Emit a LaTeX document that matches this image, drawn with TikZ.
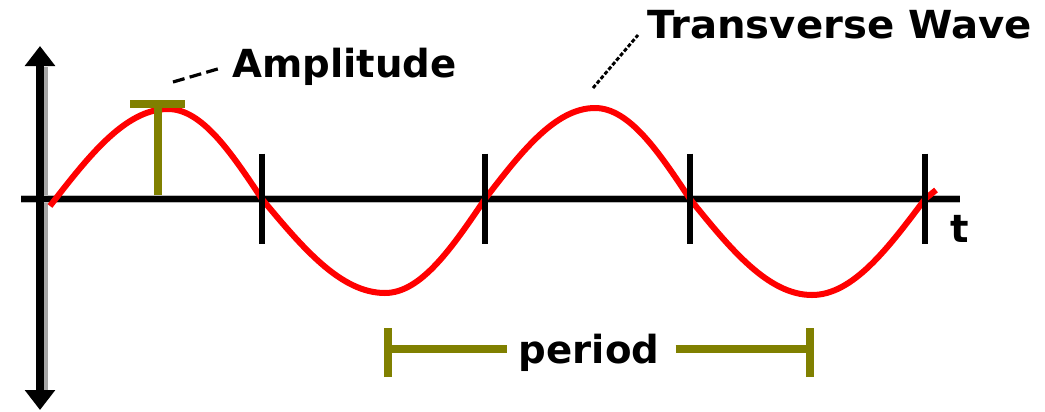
\documentclass[tikz,border=0pt]{standalone}
\usepackage{fontspec}
\setmainfont{DejaVu Sans}
\usetikzlibrary{arrows.meta}
\definecolor{olivebar}{HTML}{808000}
\definecolor{wavered}{HTML}{FF0000}
\tikzset{
  px/.style={x=0.75pt,y=-0.75pt},
  axisline/.style={line width=6pt,black},
  axishoriz/.style={line width=4pt,black},
  shadowline/.style={line width=2.5pt,gray!70},
  tickmark/.style={line width=5pt,black},
  wave/.style={line width=4.5pt,wavered,line join=round},
  olive/.style={line width=6pt,olivebar},
  label/.style={font=\fontsize{29}{30}\selectfont\bfseries,inner sep=0pt},
  leader/.style={line width=2.4pt,black},
}
\begin{document}
\begin{tikzpicture}[px]
\useasboundingbox (0,0) rectangle (1045,411);
% shadows
\draw[shadowline] (46,67) -- (46,390);
\draw[line width=6pt,gray!55] (21,199) -- (960,199);
% axes
\coordinate (ytop) at (40,46);
\coordinate (ybot) at (40,410);
\coordinate (xl) at (21,199);
\coordinate (xr) at (960,199);
\draw[axishoriz] (xl) -- (xr);
\draw[axisline,{Triangle[width=22pt,length=15pt]}-{Triangle[width=22pt,length=15pt]}] (ytop) -- (ybot);
% wave
\coordinate (w0) at (50,206);
\coordinate (p1) at (168,109);
\coordinate (z1) at (262,199);
\coordinate (t1) at (385,293);
\coordinate (z2) at (485,199);
\coordinate (p2) at (595,108);
\coordinate (z3) at (690,199);
\coordinate (t2) at (812,295);
\coordinate (z4) at (925,199);
\coordinate (wend) at (936,190);
\draw[wave] (w0) sin (p1) cos (z1) sin (t1) cos (z2) sin (p2) cos (z3) sin (t2) cos (z4) -- (wend);
% ticks
\foreach \n in {z1,z2,z3,z4}{
  \draw[tickmark] ([yshift=34]\n) -- ([yshift=-34]\n);
}
% amplitude marker
\coordinate (abase) at (158,195);
\coordinate (atop) at (158,104);
\draw[olive] (abase) -- (atop);
\draw[olive] (130,104) -- (185,104);
% labels
\node[label,anchor=base west] (amp) at (232,77) {Amplitude};
\node[label,anchor=base west] (tw) at (647,38) {\scalebox{1.04}[1]{Transverse Wave}};
\node[label,anchor=base] (per) at (589,363) {period};
\node[label,anchor=base west] (tlab) at (950,242) {t};
% leaders
\coordinate (ampend) at (173,82);
\coordinate (ampstart) at (221,68);
\draw[leader,dash pattern=on 9pt off 4pt] (ampend) -- (ampstart);
\coordinate (twend) at (593,88);
\coordinate (twstart) at (638,35);
\draw[line width=2.2pt,dash pattern=on 3pt off 1.5pt] (twend) -- (twstart);
% period bracket
\coordinate (pl) at (388,349);
\coordinate (pr) at (810,349);
\draw[olive] (pl) -- ([xshift=-9]per.west |- pl);
\draw[olive] ([xshift=12]per.east |- pr) -- (pr);
\draw[line width=5.5pt,olivebar] ([yshift=-21]pl) -- ([yshift=16]pl);
\draw[line width=5.5pt,olivebar] ([yshift=-21]pr) -- ([yshift=16]pr);
\end{tikzpicture}
\end{document}
